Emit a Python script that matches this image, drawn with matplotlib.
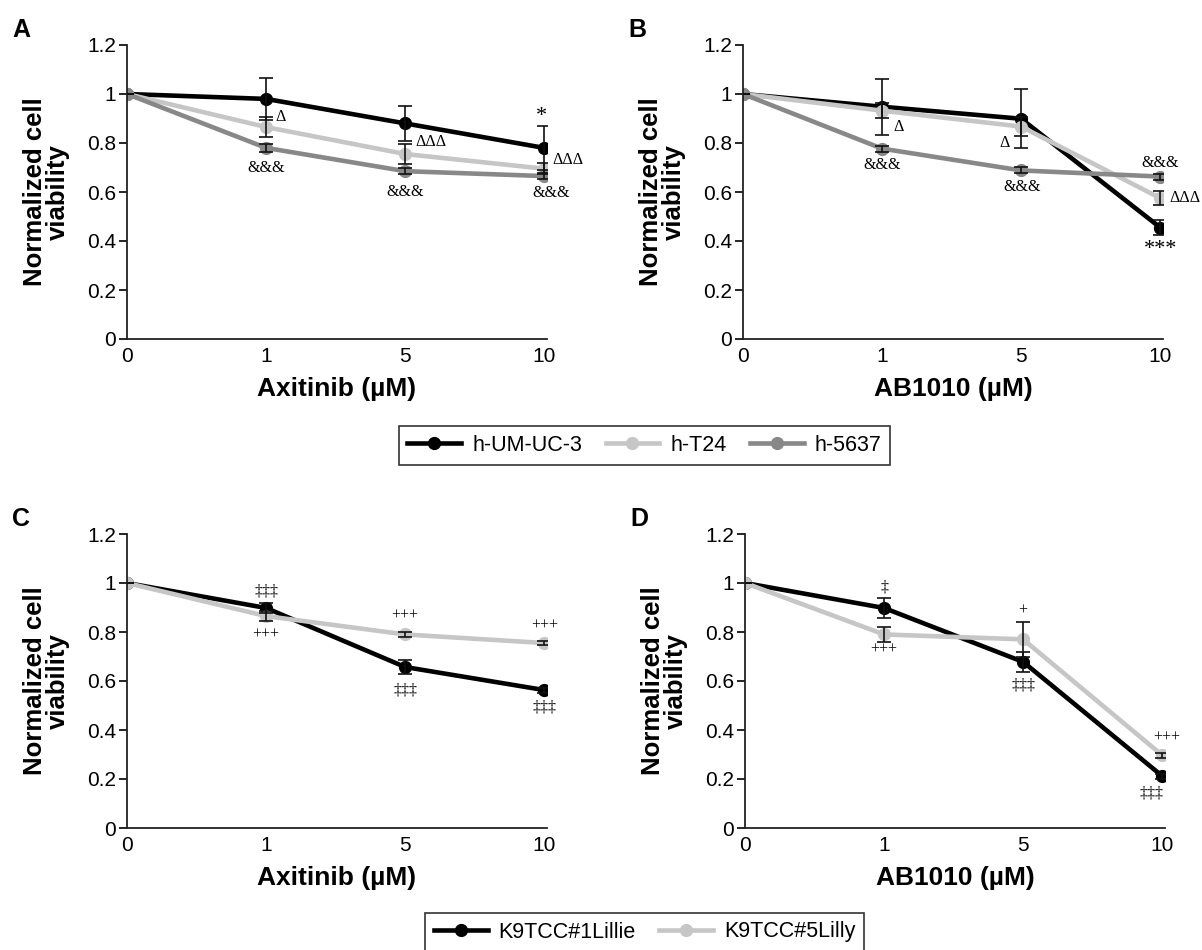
import matplotlib
matplotlib.use("Agg")
import matplotlib.pyplot as plt
from matplotlib.lines import Line2D

plt.rcParams["font.family"] = ["Liberation Sans", "DejaVu Sans"]

DOSE_LABELS = ["0", "1", "5", "10"]
YTICKS = [0, 0.2, 0.4, 0.6, 0.8, 1.0, 1.2]
YTICK_LABELS = ["0", "0.2", "0.4", "0.6", "0.8", "1", "1.2"]

HUMAN = ["h-UM-UC-3", "h-T24", "h-5637"]
CANINE = ["K9TCC#1Lillie", "K9TCC#5Lilly"]

# panel A: human lines, axitinib
A_UMUC3 = [1.0, 0.98, 0.88, 0.78]
A_UMUC3_ERR = [0.0, 0.085, 0.072, 0.09]
A_T24 = [1.0, 0.865, 0.755, 0.695]
A_T24_ERR = [0.0, 0.04, 0.04, 0.022]
A_5637 = [1.0, 0.78, 0.685, 0.665]
A_5637_ERR = [0.0, 0.015, 0.012, 0.012]

# panel B: human lines, AB1010
B_UMUC3 = [1.0, 0.948, 0.899, 0.455]
B_UMUC3_ERR = [0.0, 0.115, 0.12, 0.03]
B_T24 = [1.0, 0.932, 0.867, 0.575]
B_T24_ERR = [0.0, 0.03, 0.04, 0.03]
B_5637 = [1.0, 0.777, 0.688, 0.663]
B_5637_ERR = [0.0, 0.012, 0.012, 0.012]

# panel C: canine lines, axitinib
C_LILLIE = [1.0, 0.898, 0.657, 0.563]
C_LILLIE_ERR = [0.0, 0.02, 0.03, 0.01]
C_LILLY = [1.0, 0.865, 0.79, 0.755]
C_LILLY_ERR = [0.0, 0.02, 0.01, 0.01]

# panel D: canine lines, AB1010
D_LILLIE = [1.0, 0.898, 0.678, 0.212]
D_LILLIE_ERR = [0.0, 0.04, 0.04, 0.01]
D_LILLY = [1.0, 0.79, 0.77, 0.297]
D_LILLY_ERR = [0.0, 0.03, 0.07, 0.01]

# significance marks: (text, x, y, ha)
A_MARKS = [("\u0394", 1.07, 0.905, "left"), ("&&&", 1.0, 0.70, "center"),
           ("\u0394\u0394\u0394", 2.07, 0.804, "left"), ("&&&", 2.0, 0.60, "center"),
           ("*", 2.98, 0.91, "center"), ("\u0394\u0394\u0394", 3.06, 0.73, "left"),
           ("&&&", 3.05, 0.595, "center")]
B_MARKS = [("\u0394", 1.08, 0.867, "left"), ("&&&", 1.0, 0.71, "center"),
           ("\u0394", 1.88, 0.80, "center"), ("&&&", 2.01, 0.62, "center"),
           ("&&&", 3.0, 0.72, "center"), ("\u0394\u0394\u0394", 3.065, 0.574, "left"),
           ("***", 3.0, 0.365, "center")]
C_MARKS = [("\u2021\u2021\u2021", 1.0, 0.967, "center"), ("+++", 1.0, 0.79, "center"),
           ("+++", 2.0, 0.865, "center"), ("\u2021\u2021\u2021", 2.0, 0.56, "center"),
           ("+++", 3.0, 0.824, "center"), ("\u2021\u2021\u2021", 3.0, 0.49, "center")]
D_MARKS = [("\u2021", 1.0, 0.98, "center"), ("+++", 1.0, 0.73, "center"),
           ("+", 2.0, 0.886, "center"), ("\u2021\u2021\u2021", 2.0, 0.58, "center"),
           ("+++", 3.03, 0.37, "center"), ("\u2021\u2021\u2021", 2.92, 0.14, "center")]

BLACK = "#000000"
LIGHT = "#c6c6c6"
MID = "#888888"

W, H = 1202, 950
fig = plt.figure(figsize=(W / 100, H / 100), dpi=100)


def make_ax(left, bottom_px, top_px):
    width = 420
    return fig.add_axes([left / W, 1 - bottom_px / H, width / W, (bottom_px - top_px) / H])


def style_ax(ax, xlabel, letter):
    ax.set_xlim(0, 3.02)
    ax.set_ylim(0, 1.2)
    ax.set_xticks(range(4))
    ax.set_xticklabels(DOSE_LABELS)
    ax.set_yticks(YTICKS)
    ax.set_yticklabels(YTICK_LABELS)
    for s in ["top", "right"]:
        ax.spines[s].set_visible(False)
    for s in ["left", "bottom"]:
        ax.spines[s].set_color("#222222")
        ax.spines[s].set_linewidth(1.3)
    ax.tick_params(axis="y", direction="out", length=6, width=1.2, pad=2, labelsize=15)
    ax.tick_params(axis="x", length=0, pad=6, labelsize=15)
    ax.set_xlabel(xlabel, fontsize=19, fontweight="bold", labelpad=8)
    ax.set_ylabel("Normalized cell\nviability", fontsize=18.5, fontweight="bold",
                  linespacing=0.95)
    ax.yaxis.set_label_coords(-0.135, 0.5)
    ax.text(-0.252, 1.05, letter, transform=ax.transAxes, fontsize=18,
            fontweight="bold", ha="center", va="center")


def draw_series(ax, y, err, color):
    x = list(range(4))
    ax.plot(x, y, color=color, lw=3.3, marker="o", ms=8.5, zorder=2)
    ax.errorbar(x, y, yerr=err, fmt="none", ecolor="#111111", elinewidth=1.2,
                capsize=5, capthick=1.2, zorder=3)


def draw_marks(ax, marks):
    for txt, x, y, ha in marks:
        size = 16 if "*" in txt else 11.5
        ax.text(x, y, txt, ha=ha, va="center", fontsize=size,
                family=["Liberation Serif", "DejaVu Serif"], zorder=4)


axA = make_ax(127, 339, 45)
axB = make_ax(743, 339, 45)
axC = make_ax(127, 828, 534)
axD = make_ax(745, 828, 534)

draw_series(axA, A_UMUC3, A_UMUC3_ERR, BLACK)
draw_series(axA, A_T24, A_T24_ERR, LIGHT)
draw_series(axA, A_5637, A_5637_ERR, MID)
draw_marks(axA, A_MARKS)
style_ax(axA, "Axitinib (\u00b5M)", "A")

draw_series(axB, B_UMUC3, B_UMUC3_ERR, BLACK)
draw_series(axB, B_T24, B_T24_ERR, LIGHT)
draw_series(axB, B_5637, B_5637_ERR, MID)
draw_marks(axB, B_MARKS)
style_ax(axB, "AB1010 (\u00b5M)", "B")

draw_series(axC, C_LILLIE, C_LILLIE_ERR, BLACK)
draw_series(axC, C_LILLY, C_LILLY_ERR, LIGHT)
draw_marks(axC, C_MARKS)
style_ax(axC, "Axitinib (\u00b5M)", "C")

draw_series(axD, D_LILLIE, D_LILLIE_ERR, BLACK)
draw_series(axD, D_LILLY, D_LILLY_ERR, LIGHT)
draw_marks(axD, D_MARKS)
style_ax(axD, "AB1010 (\u00b5M)", "D")


def handles(colors):
    return [Line2D([0], [0], color=c, lw=3.3, marker="o", ms=8.5) for c in colors]


leg_kw = dict(loc="center", ncol=3, fontsize=15.5, frameon=True, fancybox=False,
              edgecolor="black", handlelength=2.5, handletextpad=0.5,
              columnspacing=1.1, borderpad=0.4)
leg1 = fig.legend(handles([BLACK, LIGHT, MID]), HUMAN,
                  bbox_to_anchor=(644.5 / W, 1 - 445.5 / H), **leg_kw)
leg1.get_frame().set_linewidth(1.2)
leg_kw["ncol"] = 2
leg2 = fig.legend(handles([BLACK, LIGHT]), CANINE,
                  bbox_to_anchor=(644.5 / W, 1 - 932 / H), **leg_kw)
leg2.get_frame().set_linewidth(1.2)

fig.savefig("out.png", dpi=100)
